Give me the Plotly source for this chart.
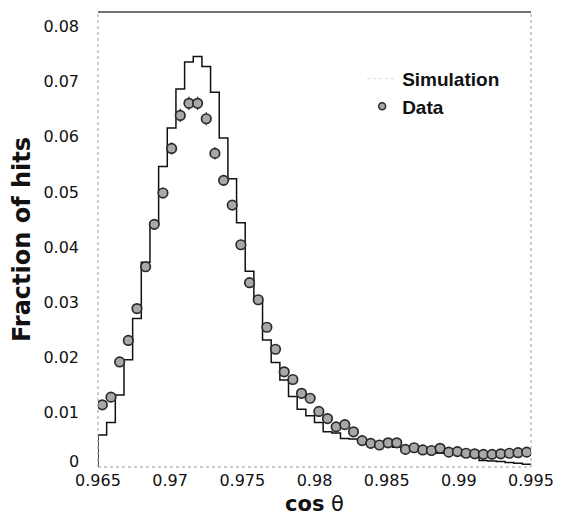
import numpy as np
import plotly.graph_objects as go

# ---- data ----
x_min, x_max, n_bins = 0.965, 0.995, 50

simulation = [0.0058, 0.0081, 0.0131, 0.0195, 0.0270, 0.0372, 0.0444, 0.0546, 0.0616, 0.0687,
              0.0736, 0.0746, 0.0728, 0.0681, 0.0598, 0.0524, 0.0444, 0.0356, 0.0301, 0.0231,
              0.0190, 0.0158, 0.0128, 0.0105, 0.0093, 0.0081, 0.0064, 0.0062, 0.0052, 0.0051,
              0.0051, 0.0046, 0.0046, 0.0040, 0.0036, 0.0034, 0.0034, 0.0031, 0.0028, 0.0025,
              0.0025, 0.0024, 0.0020, 0.0019, 0.0012, 0.0011, 0.0010, 0.0008, 0.0007, 0.0005]

data = [0.0113, 0.0127, 0.0191, 0.0230, 0.0288, 0.0364, 0.0441, 0.0498, 0.0579, 0.0639,
        0.0661, 0.0661, 0.0633, 0.0570, 0.0521, 0.0476, 0.0404, 0.0335, 0.0304, 0.0254,
        0.0214, 0.0173, 0.0159, 0.0134, 0.0125, 0.0101, 0.0088, 0.0073, 0.0077, 0.0064,
        0.0048, 0.0043, 0.0040, 0.0044, 0.0044, 0.0032, 0.0035, 0.0031, 0.0030, 0.0034,
        0.0027, 0.0028, 0.0025, 0.0024, 0.0023, 0.0023, 0.0024, 0.0025, 0.0026, 0.0027]

data_err = [0.0005, 0.0005, 0.0006, 0.0006, 0.0007, 0.0008, 0.0009, 0.0010, 0.0011, 0.0012,
            0.0012, 0.0012, 0.0012, 0.0011, 0.0010, 0.0009, 0.0009, 0.0008, 0.0007, 0.0007,
            0.0006, 0.0006, 0.0005, 0.0005, 0.0005, 0.0004, 0.0004, 0.0004, 0.0004, 0.0004,
            0.0003, 0.0003, 0.0003, 0.0003, 0.0003, 0.0003, 0.0003, 0.0003, 0.0003, 0.0003,
            0.0003, 0.0003, 0.0003, 0.0003, 0.0003, 0.0003, 0.0003, 0.0003, 0.0003, 0.0003]

x_ticks = [0.965, 0.97, 0.975, 0.98, 0.985, 0.99, 0.995]
x_tick_labels = ["0.965", "0.97", "0.975", "0.98", "0.985", "0.99", "0.995"]
y_ticks = [0.01, 0.02, 0.03, 0.04, 0.05, 0.06, 0.07, 0.08]
y_tick_labels = ["0.01", "0.02", "0.03", "0.04", "0.05", "0.06", "0.07", "0.08"]
y_zero_label = "0"

# ---- derived geometry ----
edges = np.linspace(x_min, x_max, n_bins + 1)
centers = 0.5 * (edges[:-1] + edges[1:])
step_x = [edges[0]] + list(edges[:-1]) + [edges[-1]]
step_y = [0] + list(simulation) + [simulation[-1]]

fig = go.Figure()

fig.add_trace(go.Scatter(
    x=step_x, y=step_y, mode="lines", line=dict(shape="hv", color="#111", width=1.5),
    showlegend=False, hoverinfo="skip"))

fig.add_trace(go.Scatter(
    x=centers, y=data, mode="markers", showlegend=False,
    marker=dict(size=9.5, color="#a8a8a8", line=dict(color="#2a2a2a", width=1.7)),
    error_y=dict(type="data", array=data_err, color="#222", thickness=1.2, width=0)))

# legend-only entries
fig.add_trace(go.Scatter(
    x=[None], y=[None], mode="lines", name="Simulation",
    line=dict(color="#d8d8d8", width=1, dash="dot")))
fig.add_trace(go.Scatter(
    x=[None], y=[None], mode="markers", name="Data",
    marker=dict(size=7, color="#a8a8a8", line=dict(color="#2a2a2a", width=1.5))))

frame_dot = dict(color="#9a9a9a", width=1, dash="dot")
shapes = [
    dict(type="line", xref="paper", yref="paper", x0=0, x1=0, y0=0, y1=1, line=frame_dot),
    dict(type="line", xref="paper", yref="paper", x0=1, x1=1, y0=0, y1=1, line=frame_dot),
    dict(type="line", xref="paper", yref="paper", x0=0, x1=1, y0=0, y1=0, line=frame_dot),
    dict(type="line", xref="paper", yref="paper", x0=0, x1=1, y0=1, y1=1,
         line=dict(color="#444", width=1.3)),
]

fig.add_annotation(text=y_zero_label, xref="paper", yref="y", x=0, y=0,
                   xanchor="right", yanchor="middle", xshift=-17, yshift=6,
                   showarrow=False, font=dict(family="DejaVu Sans", size=16, color="#111"))

fig.update_layout(
    template="none",
    width=561, height=528,
    margin=dict(l=98, r=30, t=12, b=61, autoexpand=False),
    paper_bgcolor="white", plot_bgcolor="white",
    shapes=shapes,
    xaxis=dict(range=[x_min, x_max], tickvals=x_ticks, ticktext=x_tick_labels,
               showgrid=False, zeroline=False, showline=False, ticks="", automargin=False,
               tickfont=dict(family="DejaVu Sans", size=16, color="#111"),
               ticklabelstandoff=2,
               title=dict(text="<b>cos</b> θ", standoff=7,
                          font=dict(family="DejaVu Sans", size=21, color="#111"))),
    yaxis=dict(range=[0, 0.0827], tickvals=y_ticks, ticktext=y_tick_labels,
               showgrid=False, zeroline=False, showline=False, ticks="", automargin=False,
               tickfont=dict(family="DejaVu Sans", size=16, color="#111"),
               ticklabelstandoff=18,
               title=dict(text="<b>Fraction of hits</b>", standoff=5,
                          font=dict(family="DejaVu Sans", size=24, color="#111"))),
    legend=dict(x=0.61, y=0.895, xanchor="left", yanchor="top",
                bgcolor="rgba(0,0,0,0)", borderwidth=0,
                font=dict(family="Liberation Sans", size=19, color="#111", weight="bold"),
                itemwidth=30, tracegroupgap=0),
)

fig.write_html("out.html", config={"displayModeBar": False},
               post_script="document.body.style.margin='0px';")
